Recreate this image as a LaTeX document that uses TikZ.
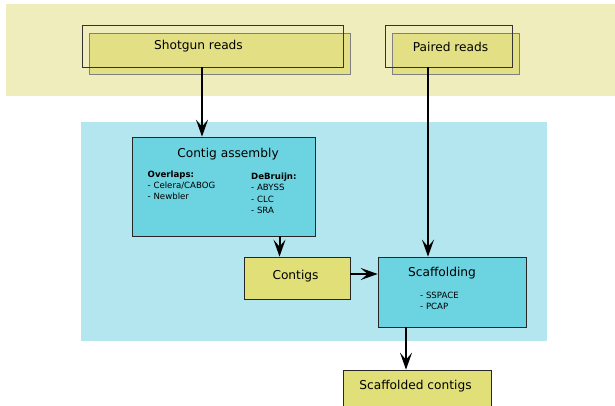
\documentclass[tikz,border=0pt]{standalone}
\usepackage{fontspec}
\setmainfont{DejaVu Sans}
\usetikzlibrary{arrows.meta}
\definecolor{inband}{HTML}{F0EDBC}
\definecolor{procband}{HTML}{B3E6EF}
\definecolor{datafill}{HTML}{E1DF78}
\definecolor{stackfill}{HTML}{E2DF84}
\definecolor{procfill}{HTML}{6CD3E0}
\tikzset{
  databox/.style={draw=black!85, line width=0.7pt, fill=datafill, rectangle, inner sep=0pt},
  procbox/.style={draw=black!85, line width=0.7pt, fill=procfill, rectangle, inner sep=0pt},
  stackfront/.style={draw=black!80, line width=0.8pt, rectangle, inner sep=0pt},
  stackback/.style={draw=black!50, line width=0.8pt, fill=stackfill, rectangle, inner sep=0pt},
  flow/.style={line width=2pt, -{Stealth[length=17pt,width=12pt,inset=7pt]}},
  small/.style={font=\fontsize{8.6}{11.2}\selectfont, align=left, anchor=north west, inner sep=0pt},
  title/.style={font=\fontsize{12.2}{14}\selectfont, inner sep=0pt}
}
\begin{document}
\begin{tikzpicture}[x=1pt,y=-1pt]
\useasboundingbox (0,0) rectangle (615,405);
% background bands
\fill[inband] (6,4) rectangle (615,96);
\fill[procband] (81,122) rectangle (547,341);

% input read sets: a filled sheet with an outlined sheet stacked over it
\node[stackback, minimum width=261pt, minimum height=41pt] (shotgunB) at (219.5,53.5) {};
\node[stackfront, minimum width=261pt, minimum height=42pt] (shotgun) at (212.5,46) {};
\node[title] (shotgunT) at (198.5,46.5) {Shotgun reads};

\node[stackback, minimum width=127pt, minimum height=41pt] (pairedB) at (455.5,53.5) {};
\node[stackfront, minimum width=127pt, minimum height=42pt] (paired) at (448.5,46) {};
\node[title] (pairedT) at (450.5,46.5) {Paired reads};

% processing steps
\node[procbox, minimum width=183pt, minimum height=99pt] (assembly) at (223.5,186.5) {};
\node[title] (assemblyT) at (228,154) {Contig assembly};
\node[small] (overlaps) at (147.5,170.5) {\textbf{Overlaps:}\\- Celera/CABOG\\- Newbler};
\node[small] (debruijn) at (251,173) {\textbf{DeBruijn:}\\- ABYSS\\- CLC\\- SRA};

\node[databox, minimum width=106pt, minimum height=42pt] (contigs) at (297,278) {};
\node[title] (contigsT) at (295.5,276) {Contigs};

\node[procbox, minimum width=148pt, minimum height=70pt] (scaff) at (452,292) {};
\node[title] (scaffT) at (442,273.5) {Scaffolding};
\node[small] (tools) at (420,291.5) {- SSPACE\\- PCAP};

\node[databox, minimum width=148pt, minimum height=36pt] (final) at (417,388) {};
\node[title] (finalT) at (415.5,386.5) {Scaffolded contigs};

% connectors
\draw[flow] ([xshift=-10.5pt]shotgun.south) -- ([xshift=-10.5pt]shotgun.south |- assembly.north);
\draw[flow] ([xshift=-20.5pt]paired.south) -- ([xshift=-20.5pt]paired.south |- scaff.north);
\draw[flow] ([xshift=56pt]assembly.south) -- ([xshift=56pt]assembly.south |- contigs.north);
\draw[flow] ([yshift=4pt]contigs.east) -- ([yshift=4pt]contigs.east -| scaff.west);
\draw[flow] ([xshift=-46pt]scaff.south) -- ([xshift=-46pt]scaff.south |- final.north);
\end{tikzpicture}
\end{document}
